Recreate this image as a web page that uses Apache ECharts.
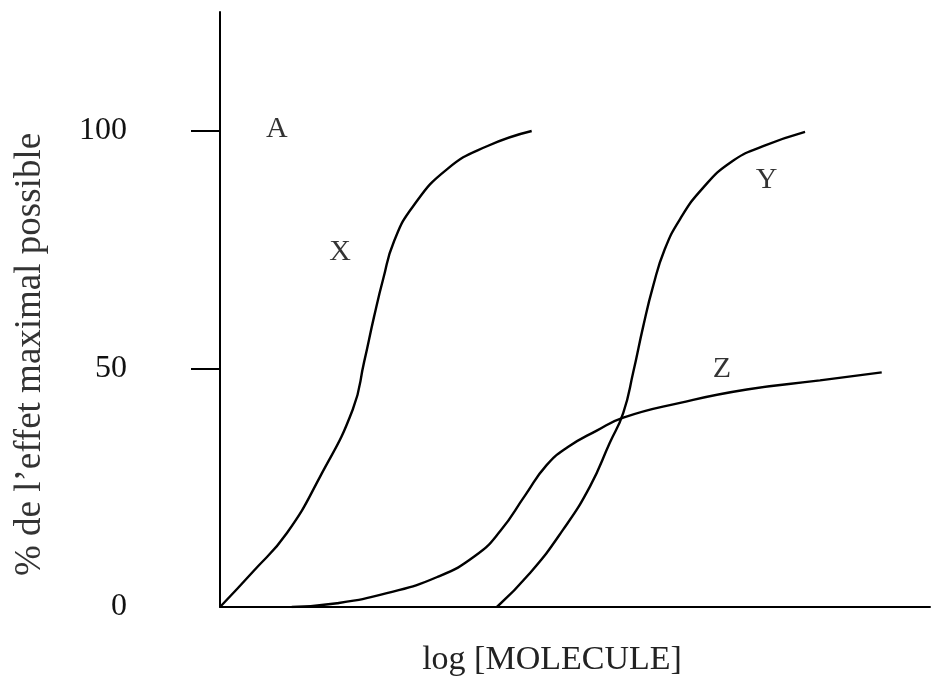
<!DOCTYPE html>
<html><head><meta charset="utf-8">
<script src="https://cdn.jsdelivr.net/npm/echarts@6/dist/echarts.min.js"></script>
<style>html,body{margin:0;padding:0;background:#fff}#c{width:933px;height:681px}</style>
</head><body><div id="c"></div>
<script>
// log[MOLECULE] (arbitrary units) vs % of maximal possible effect
const curveX = [[0,0],[0.47,7.5],[0.94,15.5],[1.41,27.4],[1.87,41.5],[2.03,51.5],[2.17,61.0],[2.3,69.0],[2.45,76.8],[2.72,84.2],[3.2,92.0],[3.76,96.8],[4.39,100]];
const curveY = [[3.9,0],[4.37,7.2],[4.83,16.2],[5.21,25.3],[5.49,34.5],[5.68,40.8],[5.82,49.3],[5.96,58.9],[6.1,67.4],[6.26,75.0],[6.48,81.5],[6.8,88.0],[7.2,93.5],[7.65,96.8],[8.24,99.8]];
const curveZ = [[1.01,0],[1.65,0.8],[2.35,2.9],[3.06,6.3],[3.6,10.8],[3.95,16.0],[4.3,23.5],[4.6,29.8],[4.9,33.6],[5.3,37.0],[5.68,39.8],[6.48,42.9],[7.42,45.7],[8.45,47.6],[9.32,49.3]];
const labelNames = ['A','X','Y','Z'];
const labelPos = [[0.8,100.4],[1.69,74.5],[7.7,89.7],[7.07,49.9]];
const yTickLabels = [0,50,100];
const yTickMarks = [50,100];

const font = '"Liberation Serif","DejaVu Serif",serif';
const lineSeries = (d) => ({type:'line', data:d, smooth:0.5, symbol:'none', lineStyle:{color:'#000', width:2.4}, silent:true});
const chart = echarts.init(document.getElementById('c'));
chart.setOption({
  animation:false,
  grid:{left:220,right:3,top:12,bottom:74,containLabel:false,outerBoundsMode:'none'},
  xAxis:{type:'value',min:0,max:10,
    axisLine:{show:true,lineStyle:{color:'#000',width:2}},
    axisTick:{show:false},axisLabel:{show:false},splitLine:{show:false},
    name:'log [MOLECULE]',nameLocation:'middle',nameGap:36,
    nameTextStyle:{fontFamily:font,fontSize:34,color:'#222',padding:[0,46,0,0]}},
  yAxis:{type:'value',min:0,max:125,
    axisLine:{show:true,lineStyle:{color:'#000',width:2}},
    axisTick:{show:true,length:29,lineStyle:{color:'#000',width:2},customValues:yTickMarks},
    axisLabel:{customValues:yTickLabels,margin:93,fontFamily:font,fontSize:32,color:'#111'},
    splitLine:{show:false},
    name:'% de l\u2019effet maximal possible',nameLocation:'middle',nameGap:171,
    nameTextStyle:{fontFamily:font,fontSize:37,color:'#333',padding:[0,0,0,-90]}},
  series:[
    lineSeries(curveX),lineSeries(curveY),lineSeries(curveZ),
    {type:'scatter',symbolSize:0,silent:true,
     data:labelPos.map((p,i)=>({value:p,name:labelNames[i]})),
     label:{show:true,position:'inside',formatter:'{b}',fontFamily:font,fontSize:30,color:'#000'}}
  ]
});
</script></body></html>
